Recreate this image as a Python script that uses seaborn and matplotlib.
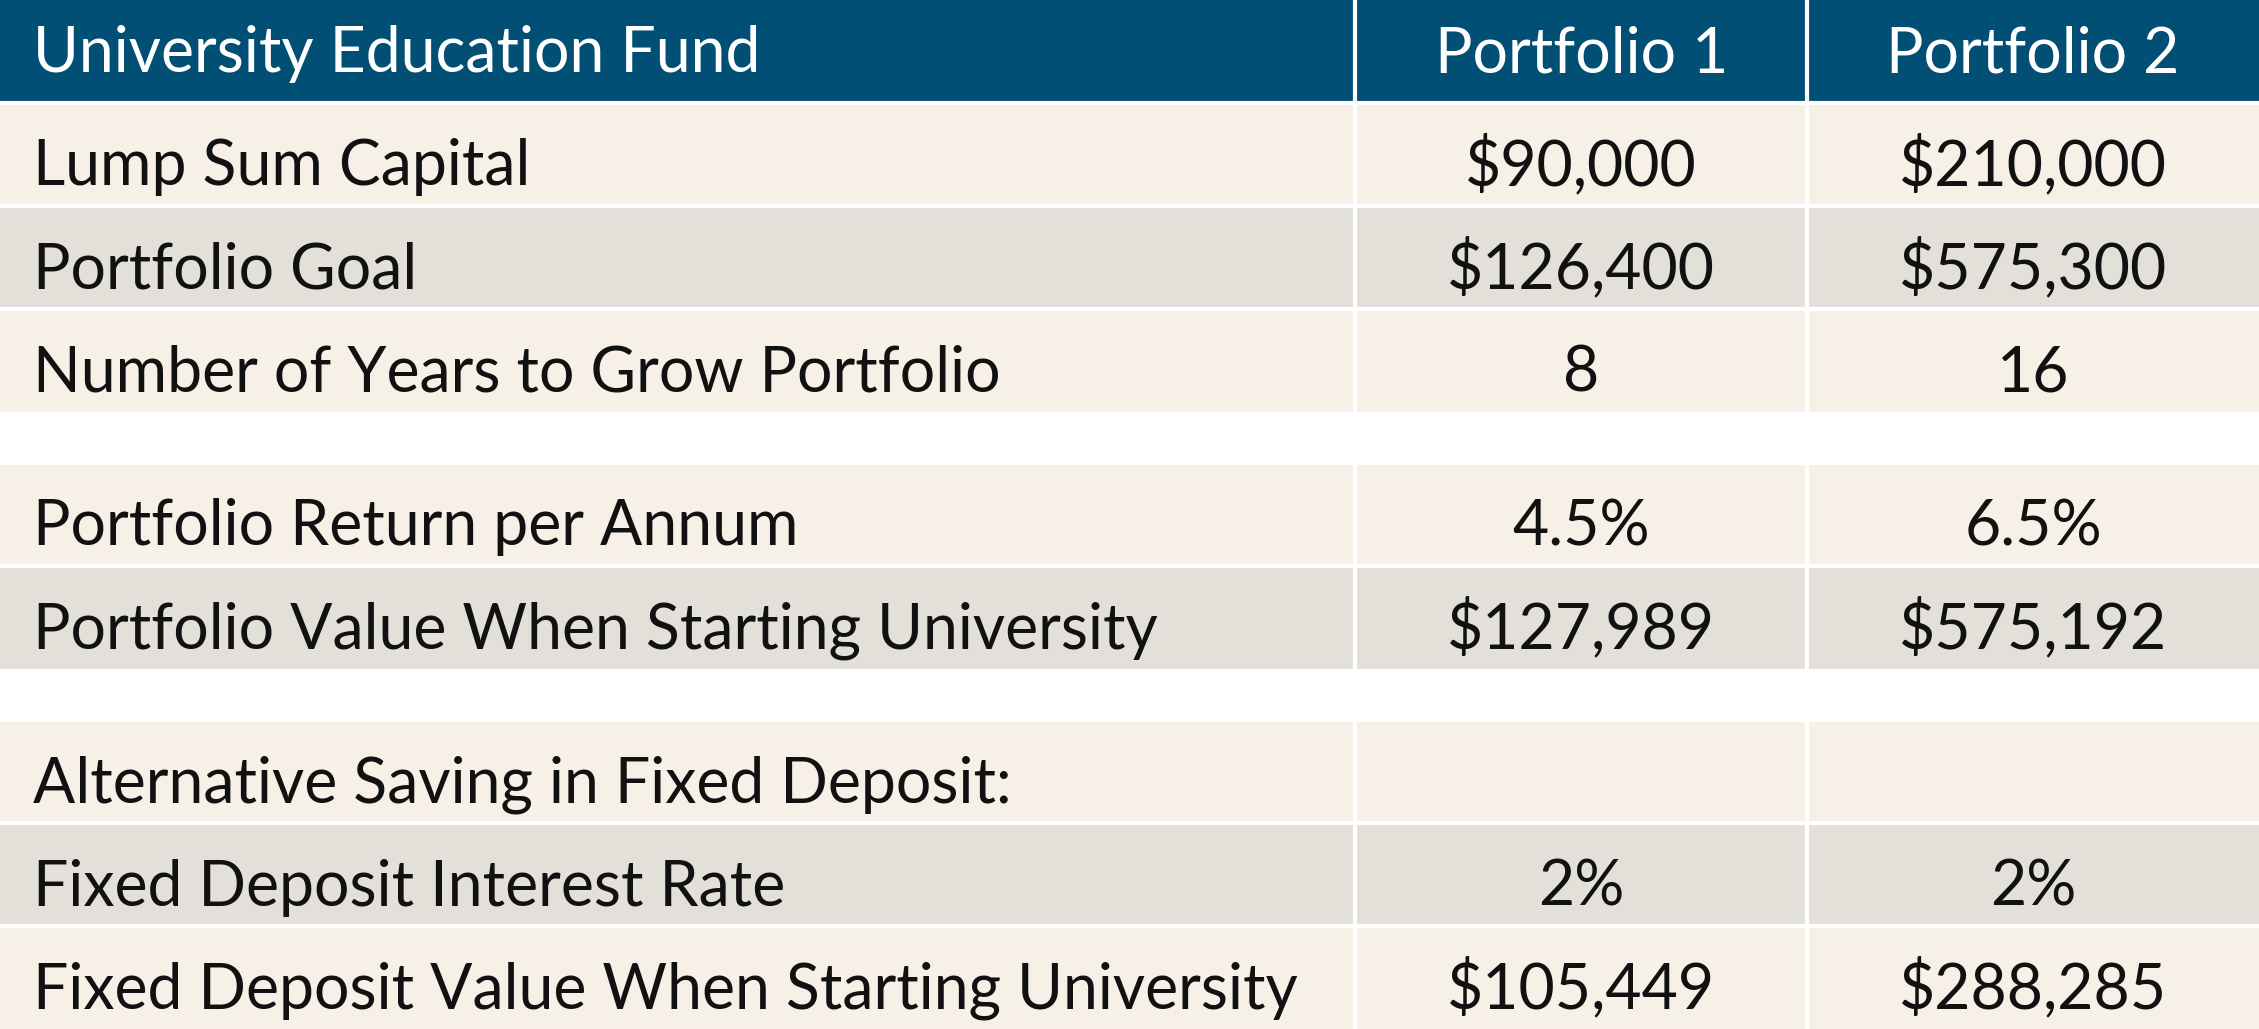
import numpy as np
import matplotlib
matplotlib.use("Agg")
import matplotlib.pyplot as plt
from matplotlib.colors import ListedColormap
import seaborn as sns

# table content
header = ["University Education Fund", "Portfolio 1", "Portfolio 2"]
row_labels = [
    "Lump Sum Capital",
    "Portfolio Goal",
    "Number of Years to Grow Portfolio",
    "Portfolio Return per Annum",
    "Portfolio Value When Starting University",
    "Alternative Saving in Fixed Deposit:",
    "Fixed Deposit Interest Rate",
    "Fixed Deposit Value When Starting University",
]
portfolio_1 = ["$90,000", "$126,400", "8", "4.5%", "$127,989", "", "2%", "$105,449"]
portfolio_2 = ["$210,000", "$575,300", "16", "6.5%", "$575,192", "", "2%", "$288,285"]

# 1 = cream row, 2 = grey row
row_shade = [1, 2, 1, 1, 2, 1, 2, 1]
group_starts = [3, 5]  # a blank spacer sits before these rows

HEADER_BLUE = "#024F75"
CREAM = "#F6F0E6"
GREY = "#E2E0D9"

sns.set_theme(style="white")
plt.rcParams["font.family"] = ["Lato", "DejaVu Sans"]

# build a grid in half-row units: header/rows take 2, spacers take 1
# columns: label column spans 3 units, each portfolio column 1 unit
grid_rows = [[0] * 5, [0] * 5]
row_tops = []
for i, shade in enumerate(row_shade):
    if i in group_starts:
        grid_rows.append([np.nan] * 5)
    row_tops.append(len(grid_rows))
    grid_rows.append([shade] * 5)
    grid_rows.append([shade] * 5)
grid = np.array(grid_rows, dtype=float)
n_units = grid.shape[0]

fig = plt.figure(figsize=(22.59, 10.29), dpi=100)
ax = fig.add_axes([0, 0, 1, 1])
sns.heatmap(grid, cmap=ListedColormap([HEADER_BLUE, CREAM, GREY]),
            vmin=-0.5, vmax=2.5, cbar=False, linewidths=0,
            xticklabels=False, yticklabels=False, ax=ax)

# white gaps between cells
ax.vlines([3, 4], 0, n_units, color="white", lw=3)
ax.hlines(row_tops, 0, 5, color="white", lw=3)

FS = 45
LX = 0.072
ax.text(LX, 1.40, header[0], color="white", fontsize=FS, va="baseline", ha="left")
ax.text(3.5, 1.40, header[1], color="white", fontsize=FS, va="baseline", ha="center")
ax.text(4.5, 1.40, header[2], color="white", fontsize=FS, va="baseline", ha="center")

for top, label, v1, v2 in zip(row_tops, row_labels, portfolio_1, portfolio_2):
    base = top + 1.6
    ax.text(LX, base, label, color="#111111", fontsize=FS, va="baseline", ha="left")
    ax.text(3.5, base, v1, color="#111111", fontsize=FS, va="baseline", ha="center")
    ax.text(4.5, base, v2, color="#111111", fontsize=FS, va="baseline", ha="center")

ax.set_axis_off()
plt.savefig("out.png", dpi=100)
plt.close()
